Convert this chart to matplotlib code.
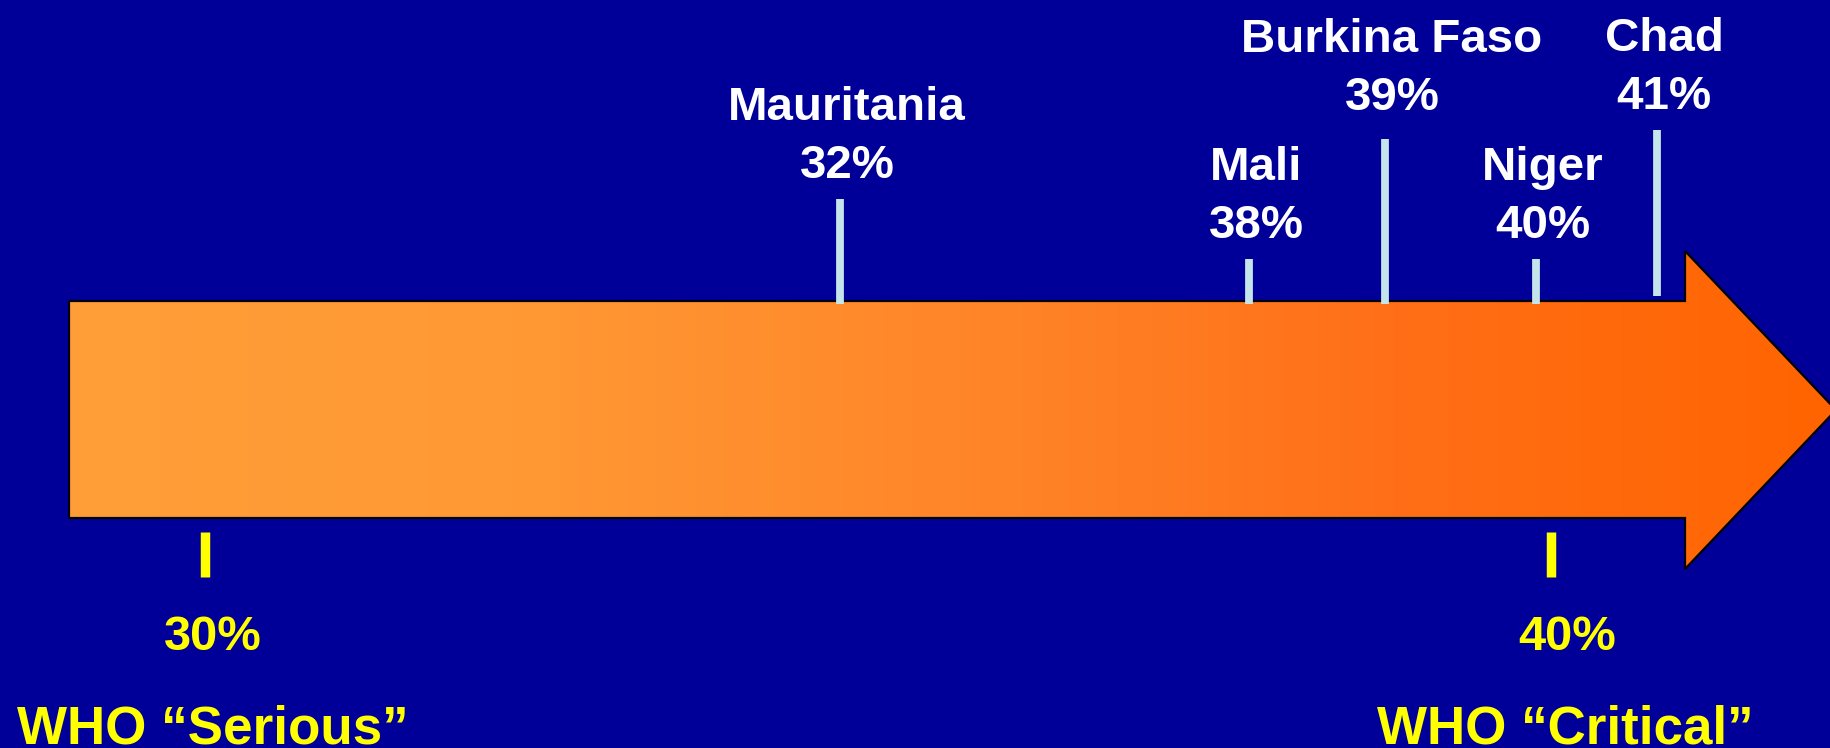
import matplotlib.pyplot as plt
import numpy as np
from matplotlib.colors import LinearSegmentedColormap
from matplotlib.patches import Polygon

countries = ["Mauritania", "Mali", "Burkina Faso", "Niger", "Chad"]
prevalence = [32, 38, 39, 40, 41]
# schematic positions along the arrow (not a linear scale in the original)
tick_x = [840, 1249, 1385, 1536, 1657]
tick_top = [199, 259, 139, 259, 130]
tick_bottom = [304, 304, 304, 304, 296]

thresholds = [30, 40]
threshold_names = ["WHO \u201cSerious\u201d", "WHO \u201cCritical\u201d"]
threshold_x = [205, 1551]
threshold_label_x = [213, 1567]
threshold_name_x = [17, 1377]

bg = "#000099"
fig = plt.figure(figsize=(18.3, 7.48), dpi=100, facecolor=bg)
ax = fig.add_axes([0, 0, 1, 1])
ax.set_facecolor(bg)
ax.set_xlim(0, 1830)
ax.set_ylim(748, 0)
ax.axis("off")

plt.rcParams["font.family"] = ["Liberation Sans", "DejaVu Sans"]

# arrow with orange gradient
arrow = [(69, 301), (1685, 301), (1685, 251), (1836, 410),
         (1685, 569), (1685, 518), (69, 518)]
cmap = LinearSegmentedColormap.from_list(
    "orng", [(0, "#FF9E38"), (0.25, "#FF9934"), (0.53, "#FF8428"),
             (0.76, "#FF6E16"), (1, "#FF6400")])
grad = np.linspace(0, 1, 512).reshape(1, -1)
im = ax.imshow(grad, cmap=cmap, extent=(69, 1836, 569, 251), aspect="auto", zorder=1)
poly = Polygon(arrow, closed=True, facecolor="none", edgecolor="black", lw=1.6, zorder=2)
ax.add_patch(poly)
im.set_clip_path(poly)

# country markers
ax.vlines(tick_x, tick_top, tick_bottom, colors="#C4E6EA", lw=5.6, zorder=3)
for name, val, x, top in zip(countries, prevalence, tick_x, tick_top):
    pct_base = top - 21
    if name == "Burkina Faso":
        pct_base = top - 29
    ax.text(x + 7, pct_base, f"{val}%", color="white", fontsize=34.2,
            fontweight="bold", ha="center", va="baseline", zorder=4)
    ax.text(x + 7, pct_base - 58, name, color="white", fontsize=34.2,
            fontweight="bold", ha="center", va="baseline", zorder=4)

# WHO thresholds
ax.vlines(threshold_x, 532, 577, colors="#FFFF00", lw=6.8, zorder=3)
for val, name, lx, nx in zip(thresholds, threshold_names, threshold_label_x, threshold_name_x):
    ax.text(lx, 650, f"{val}%", color="#FFFF00", fontsize=35.2,
            fontweight="bold", ha="center", va="baseline")
    ax.text(nx, 743, name, color="#FFFF00", fontsize=38.2,
            fontweight="bold", ha="left", va="baseline")

fig.savefig("out.png", dpi=100, facecolor=bg)
